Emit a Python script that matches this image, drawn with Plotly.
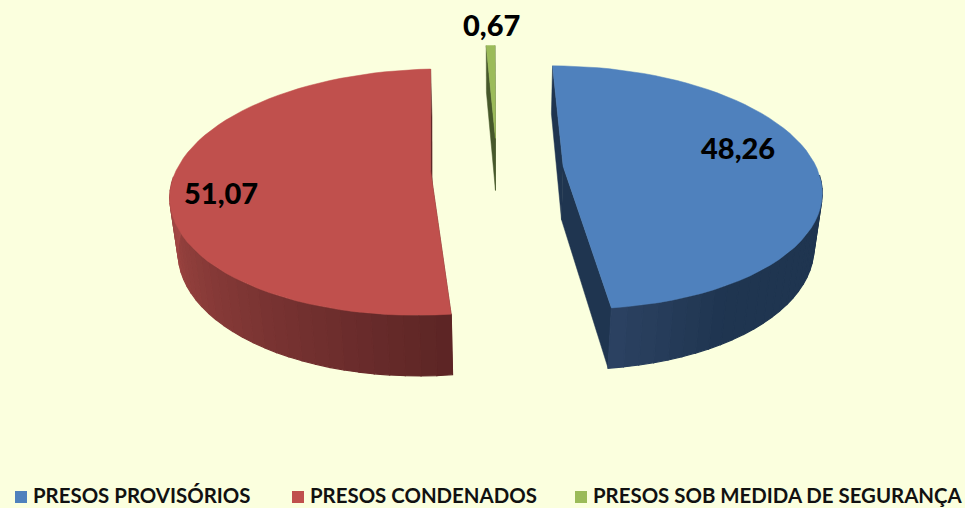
import math
import plotly.graph_objects as go

# Data
categories = ["PRESOS PROVISÓRIOS", "PRESOS CONDENADOS", "PRESOS SOB MEDIDA DE SEGURANÇA"]
values = [48.26, 51.07, 0.67]
value_labels = ["48,26", "51,07", "0,67"]

# Styles
BG = "#FBFFDE"
TOP = ["#4F81BD", "#C0504D", "#9BBB59"]
SIDE = ["#1F3550", "#5E2626", "#46582A"]
FONT = "Lato"
WALL_GRADIENT = [((174, (44, 66, 98)), (150, (31, 53, 80))),
                 ((174, (92, 37, 37)), (275, (172, 76, 72))),
                 ((358, (70, 88, 42)), (360, (70, 88, 42)))]

# 3D projection of the exploded pie
CX, CY, RX, RY, DEPTH = 497, 168, 253.5, 118.5, 55
PERSP, SHRINK, EXPLODE, START = 0.175, 0.025, 0.262, -0.2
W, H = 965, 508


def project(u, v, h):
    s = 1 / (1 - PERSP * v + SHRINK * h)
    return CX + RX * u * s, CY + RY * v * s + DEPTH * h * s


def mix(stops, a):
    (a0, c0), (a1, c1) = stops
    t = max(0, min(1, (a - a0) / (a1 - a0)))
    return "rgb(%d,%d,%d)" % tuple(round(x + (y - x) * t) for x, y in zip(c0, c1))


def polygon(fig, pts, color, lw=0.5):
    fig.add_trace(go.Scatter(
        x=[p[0] for p in pts] + [pts[0][0]], y=[p[1] for p in pts] + [pts[0][1]],
        mode="lines", fill="toself", fillcolor=color, line=dict(color=color, width=lw),
        hoverinfo="skip", showlegend=False))


fig = go.Figure()
total = sum(values)
angle = START
for i, val in enumerate(values):
    a0 = angle
    a1 = angle + val / total * 360
    angle = a1
    mid = math.radians((a0 + a1) / 2)
    ou, ov = EXPLODE * math.sin(mid), -EXPLODE * math.cos(mid)
    n = max(3, int((a1 - a0) / 3))
    angs = [a0 + (a1 - a0) * k / n for k in range(n + 1)]
    rim = [(ou + math.sin(math.radians(a)), ov - math.cos(math.radians(a))) for a in angs]
    # radial cut walls
    for (u, v) in (rim[0], rim[-1]):
        polygon(fig, [project(ou, ov, 0), project(u, v, 0), project(u, v, 1), project(ou, ov, 1)], SIDE[i])
    # outer wall, only where it faces the viewer
    for k in range(n):
        (u0, v0), (u1, v1) = rim[k], rim[k + 1]
        if max(v0, v1) < 0.1:
            continue
        polygon(fig, [project(u0, v0, 0), project(u1, v1, 0), project(u1, v1, 1), project(u0, v0, 1)],
                mix(WALL_GRADIENT[i], (angs[k] + angs[k + 1]) / 2), lw=1.2)
    # top face
    polygon(fig, [project(ou, ov, 0)] + [project(u, v, 0) for u, v in rim], TOP[i])

# Key along the bottom edge
KEY_X = [21, 298, 581]
KEY_Y = 497
KEY_TEXT_X = [33, 310, 593]
KEY_TEXT_Y = 494.5
for i, name in enumerate(categories):
    fig.add_trace(go.Scatter(x=[KEY_X[i]], y=[KEY_Y], mode="markers", name=name,
                             showlegend=False, hoverinfo="skip",
                             marker=dict(symbol="square", size=12, color=TOP[i])))
    fig.add_annotation(x=KEY_TEXT_X[i], y=KEY_TEXT_Y, xref="x", yref="y", text=name, showarrow=False,
                       xanchor="left", xshift=-2,
                       font=dict(family=FONT, size=20.4, color="#111111", weight="bold"))

# Value labels
LABEL_POS = [(738, 147), (221, 192), (491, 24)]
for (x, y), txt in zip(LABEL_POS, value_labels):
    fig.add_annotation(x=x, y=y, xref="x", yref="y", text=txt, showarrow=False,
                       font=dict(family=FONT, size=29, color="#000000", weight=900))

fig.update_layout(
    width=W, height=H, margin=dict(l=0, r=0, t=0, b=0),
    paper_bgcolor=BG, plot_bgcolor=BG, showlegend=False,
    xaxis=dict(range=[0, W], visible=False, fixedrange=True),
    yaxis=dict(range=[H, 0], visible=False, fixedrange=True))
fig.write_html("out.html", config={"displayModeBar": False},
               post_script="document.body.style.margin='0';document.body.style.background='%s';"
                           "document.body.style.overflow='hidden';" % BG)
